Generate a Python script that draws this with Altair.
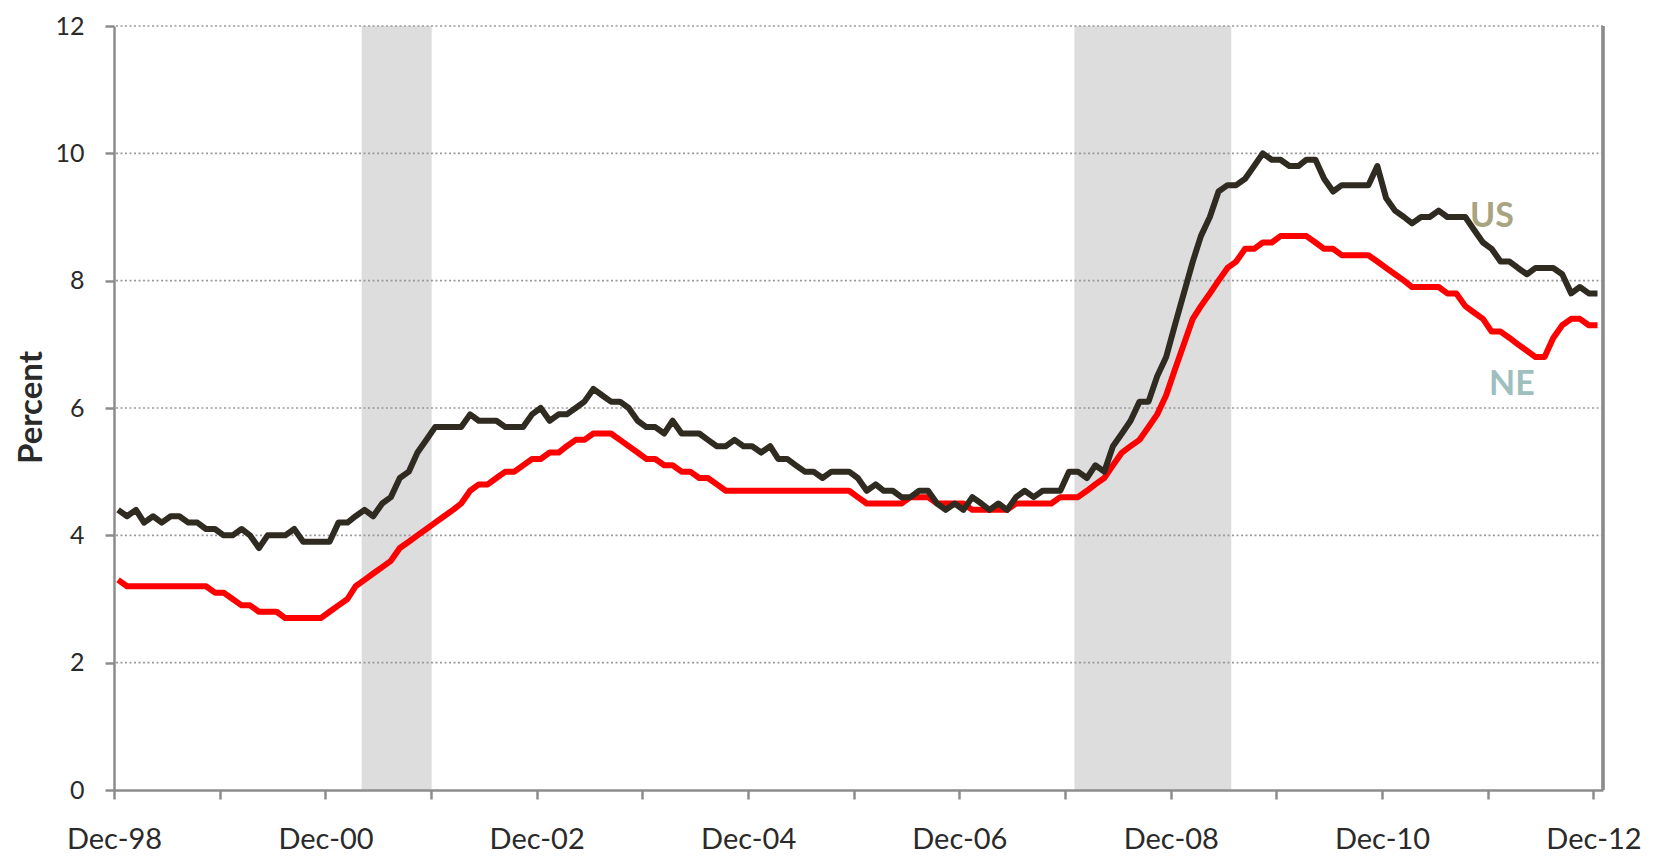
import altair as alt
import pandas as pd

# ---- data (monthly, Dec-1998 .. Dec-2012), percent ----
us_1998 = [4.4]
us_1999 = [4.3, 4.4, 4.2, 4.3, 4.2, 4.3, 4.3, 4.2, 4.2, 4.1, 4.1, 4.0]
us_2000 = [4.0, 4.1, 4.0, 3.8, 4.0, 4.0, 4.0, 4.1, 3.9, 3.9, 3.9, 3.9]
us_2001 = [4.2, 4.2, 4.3, 4.4, 4.3, 4.5, 4.6, 4.9, 5.0, 5.3, 5.5, 5.7]
us_2002 = [5.7, 5.7, 5.7, 5.9, 5.8, 5.8, 5.8, 5.7, 5.7, 5.7, 5.9, 6.0]
us_2003 = [5.8, 5.9, 5.9, 6.0, 6.1, 6.3, 6.2, 6.1, 6.1, 6.0, 5.8, 5.7]
us_2004 = [5.7, 5.6, 5.8, 5.6, 5.6, 5.6, 5.5, 5.4, 5.4, 5.5, 5.4, 5.4]
us_2005 = [5.3, 5.4, 5.2, 5.2, 5.1, 5.0, 5.0, 4.9, 5.0, 5.0, 5.0, 4.9]
us_2006 = [4.7, 4.8, 4.7, 4.7, 4.6, 4.6, 4.7, 4.7, 4.5, 4.4, 4.5, 4.4]
us_2007 = [4.6, 4.5, 4.4, 4.5, 4.4, 4.6, 4.7, 4.6, 4.7, 4.7, 4.7, 5.0]
us_2008 = [5.0, 4.9, 5.1, 5.0, 5.4, 5.6, 5.8, 6.1, 6.1, 6.5, 6.8, 7.3]
us_2009 = [7.8, 8.3, 8.7, 9.0, 9.4, 9.5, 9.5, 9.6, 9.8, 10.0, 9.9, 9.9]
us_2010 = [9.8, 9.8, 9.9, 9.9, 9.6, 9.4, 9.5, 9.5, 9.5, 9.5, 9.8, 9.3]
us_2011 = [9.1, 9.0, 8.9, 9.0, 9.0, 9.1, 9.0, 9.0, 9.0, 8.8, 8.6, 8.5]
us_2012 = [8.3, 8.3, 8.2, 8.1, 8.2, 8.2, 8.2, 8.1, 7.8, 7.9, 7.8, 7.8]

ne_1998 = [3.3]
ne_1999 = [3.2, 3.2, 3.2, 3.2, 3.2, 3.2, 3.2, 3.2, 3.2, 3.2, 3.1, 3.1]
ne_2000 = [3.0, 2.9, 2.9, 2.8, 2.8, 2.8, 2.7, 2.7, 2.7, 2.7, 2.7, 2.8]
ne_2001 = [2.9, 3.0, 3.2, 3.3, 3.4, 3.5, 3.6, 3.8, 3.9, 4.0, 4.1, 4.2]
ne_2002 = [4.3, 4.4, 4.5, 4.7, 4.8, 4.8, 4.9, 5.0, 5.0, 5.1, 5.2, 5.2]
ne_2003 = [5.3, 5.3, 5.4, 5.5, 5.5, 5.6, 5.6, 5.6, 5.5, 5.4, 5.3, 5.2]
ne_2004 = [5.2, 5.1, 5.1, 5.0, 5.0, 4.9, 4.9, 4.8, 4.7, 4.7, 4.7, 4.7]
ne_2005 = [4.7, 4.7, 4.7, 4.7, 4.7, 4.7, 4.7, 4.7, 4.7, 4.7, 4.7, 4.6]
ne_2006 = [4.5, 4.5, 4.5, 4.5, 4.5, 4.6, 4.6, 4.6, 4.5, 4.5, 4.5, 4.5]
ne_2007 = [4.4, 4.4, 4.4, 4.4, 4.4, 4.5, 4.5, 4.5, 4.5, 4.5, 4.6, 4.6]
ne_2008 = [4.6, 4.7, 4.8, 4.9, 5.1, 5.3, 5.4, 5.5, 5.7, 5.9, 6.2, 6.6]
ne_2009 = [7.0, 7.4, 7.6, 7.8, 8.0, 8.2, 8.3, 8.5, 8.5, 8.6, 8.6, 8.7]
ne_2010 = [8.7, 8.7, 8.7, 8.6, 8.5, 8.5, 8.4, 8.4, 8.4, 8.4, 8.3, 8.2]
ne_2011 = [8.1, 8.0, 7.9, 7.9, 7.9, 7.9, 7.8, 7.8, 7.6, 7.5, 7.4, 7.2]
ne_2012 = [7.2, 7.1, 7.0, 6.9, 6.8, 6.8, 7.1, 7.3, 7.4, 7.4, 7.3, 7.3]

us = (us_1998 + us_1999 + us_2000 + us_2001 + us_2002 + us_2003 + us_2004 + us_2005
      + us_2006 + us_2007 + us_2008 + us_2009 + us_2010 + us_2011 + us_2012)
ne = (ne_1998 + ne_1999 + ne_2000 + ne_2001 + ne_2002 + ne_2003 + ne_2004 + ne_2005
      + ne_2006 + ne_2007 + ne_2008 + ne_2009 + ne_2010 + ne_2011 + ne_2012)

recession_start = ["2001-04-05", "2008-01-03"]
recession_end = ["2001-12-03", "2009-06-28"]

y_ticks = [0, 2, 4, 6, 8, 10, 12]
tick_years = list(range(1998, 2013))

series_labels = ["US", "NE"]
label_dates = ["2011-12-16", "2012-02-23"]
label_values = [9.0, 6.36]
label_colors = ["#a8a47f", "#9ebfbe"]

# ---- tables ----
months = pd.date_range("1998-12-01", periods=len(us), freq="MS") + pd.Timedelta(days=14)
df_us = pd.DataFrame({"date": months, "rate": us})
df_ne = pd.DataFrame({"date": months, "rate": ne})
df_rec = pd.DataFrame({"start": pd.to_datetime(recession_start), "end": pd.to_datetime(recession_end)})
df_grid = pd.DataFrame({"v": [v for v in y_ticks if v > 0]})
df_lab = pd.DataFrame({"date": pd.to_datetime(label_dates), "rate": label_values,
                       "name": series_labels, "col": label_colors})

W, H = 1489, 764
FONT = "Lato"
TXT = "#2a2a2a"
AX = "#8c8c8c"

x_scale = alt.Scale(domain=[alt.DateTime(year=1998, month=12, date=1),
                            alt.DateTime(year=2013, month=1, date=3)])
y_scale = alt.Scale(domain=[0, 12], nice=False, zero=True)

x_axis = alt.Axis(
    values=[alt.DateTime(year=y, month=12, date=1) for y in tick_years],
    labelExpr="year(datum.value) % 2 == 0 ? timeFormat(datum.value, '%b-%y') : ''",
    title=None, grid=False, labelFont=FONT, labelFontSize=29, labelColor=TXT,
    labelPadding=26, labelFlush=False, labelOverlap=False,
    tickSize=9, tickColor=AX, tickWidth=2.5, domainColor=AX, domainWidth=2.5, zindex=1,
)
y_axis = alt.Axis(
    values=y_ticks, format="d", title="Percent", grid=False,
    labelFont=FONT, labelFontSize=25, labelColor=TXT, labelPadding=21,
    tickSize=9, tickColor=AX, tickWidth=2.5, domainColor=AX, domainWidth=2.5,
    titleFont=FONT, titleFontSize=33, titleFontWeight="bold", titleColor=TXT,
    titleAngle=270, titleAlign="center", titleBaseline="middle",
    titleX=-83, titleY=381, zindex=1,
)

bands = alt.Chart(df_rec).mark_rect(color="#dddddd").encode(
    x=alt.X("start:T", scale=x_scale, axis=x_axis),
    x2="end:T",
    y=alt.value(0), y2=alt.value(H),
)

grid = alt.Chart(df_grid).mark_rule(color="#9a9a9a", strokeDash=[2, 2.5], strokeWidth=1.6).encode(
    y=alt.Y("v:Q", scale=y_scale, axis=y_axis),
)

line_ne = alt.Chart(df_ne).mark_line(color="#ff0000", strokeWidth=6, strokeJoin="round").encode(
    x=alt.X("date:T", scale=x_scale),
    y=alt.Y("rate:Q", scale=y_scale),
)
line_us = alt.Chart(df_us).mark_line(color="#2f2b21", strokeWidth=6, strokeJoin="round").encode(
    x=alt.X("date:T", scale=x_scale),
    y=alt.Y("rate:Q", scale=y_scale),
)

border = alt.Chart(df_grid).mark_rule(color=AX, strokeWidth=2.5).encode(
    x=alt.value(W), y=alt.value(0), y2=alt.value(H),
)

labels = alt.Chart(df_lab).mark_text(font=FONT, fontSize=34, fontWeight="bold",
                                     align="center", baseline="middle").encode(
    x=alt.X("date:T", scale=x_scale),
    y=alt.Y("rate:Q", scale=y_scale),
    text="name:N",
    color=alt.Color("col:N", scale=None),
)

chart = alt.layer(bands, grid, line_ne, line_us, border, labels).properties(
    width=W, height=H,
    autosize=alt.AutoSizeParams(type="none"),
    padding={"left": 106, "top": 18, "right": 45, "bottom": 66},
    background="white",
).configure_view(stroke=None)

chart.save("out.html", embed_options={"renderer": "svg", "actions": False})
